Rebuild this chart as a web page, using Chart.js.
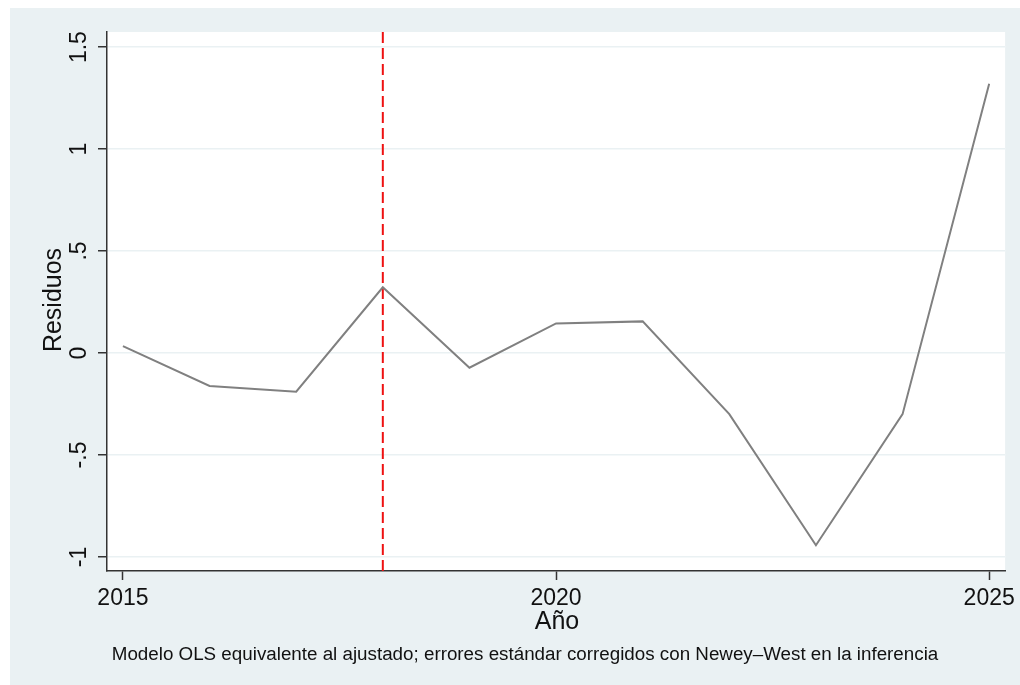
<!DOCTYPE html>
<html>
<head>
<meta charset="utf-8">
<script src="https://cdn.jsdelivr.net/npm/chart.js@4.4.1/dist/chart.umd.min.js"></script>
<style>
  html, body { margin: 0; padding: 0; background: #fff; }
  #wrap { position: absolute; left: 10px; top: 8px; width: 1010px; height: 677px; background: #eaf1f3; }
  canvas { display: block; }
</style>
</head>
<body>
<div id="wrap"><canvas id="resChart" width="1010" height="677"></canvas></div>
<script>
  // Data
  const years = [2015, 2016, 2017, 2018, 2019, 2020, 2021, 2022, 2023, 2024, 2025];
  const residuos = [0.034, -0.162, -0.19, 0.322, -0.072, 0.145, 0.155, -0.3, -0.943, -0.3, 1.32];
  const xTicks = [2015, 2020, 2025];
  const yTicks = [-1, -0.5, 0, 0.5, 1, 1.5];
  const yTickLabels = ['-1', '-.5', '0', '.5', '1', '1.5'];
  const breakYear = 2018;

  const xMin = 2014.816, xMax = 2025.184;
  const yMin = -1.069, yMax = 1.574;
  const font = "'Liberation Sans', Arial, sans-serif";

  // white plot region
  const bgPlugin = {
    id: 'plotBg',
    beforeDraw(chart) {
      const a = chart.chartArea;
      chart.ctx.save();
      chart.ctx.fillStyle = '#fff';
      chart.ctx.fillRect(a.left, a.top, a.right - a.left, a.bottom - a.top);
      chart.ctx.restore();
    }
  };

  // Texts drawn by hand: rotated y labels, axis titles, caption
  const textPlugin = {
    id: 'stataText',
    afterDraw(chart) {
      const c = chart.ctx;
      const ys = chart.scales.y;
      c.save();
      c.fillStyle = '#111';
      c.font = '23px ' + font;
      c.textAlign = 'center';
      c.textBaseline = 'middle';
      yTicks.forEach((v, i) => {
        const py = ys.getPixelForValue(v);
        c.save();
        c.translate(70, py);
        c.rotate(-Math.PI / 2);
        c.fillText(yTickLabels[i], 0, 0);
        c.restore();
      });
      c.font = '25px ' + font;
      // y title
      c.save();
      c.translate(44, 292);
      c.rotate(-Math.PI / 2);
      c.fillText('Residuos', 0, 0);
      c.restore();
      // x title
      c.fillText('Año', 547, 614);
      // caption
      c.font = '18.8px ' + font;
      c.fillText('Modelo OLS equivalente al ajustado; errores estándar corregidos con Newey\u2013West en la inferencia', 515, 647);
      c.restore();
    }
  };

  new Chart(document.getElementById('resChart'), {
    type: 'line',
    data: {
      datasets: [{
        data: years.map((y, i) => ({ x: y, y: residuos[i] })),
        borderColor: '#808080',
        borderWidth: 2,
        pointRadius: 0,
        tension: 0
      }, {
        data: [{ x: breakYear, y: yMin }, { x: breakYear, y: yMax }],
        borderColor: '#ee1111',
        borderWidth: 2,
        borderDash: [11, 5],
        pointRadius: 0
      }]
    },
    options: {
      responsive: false,
      animation: false,
      layout: { padding: { left: 0, top: 24, right: 13, bottom: 0 } },
      plugins: { legend: { display: false }, tooltip: { enabled: false } },
      scales: {
        x: {
          type: 'linear',
          min: xMin,
          max: xMax,
          afterBuildTicks: s => { s.ticks = xTicks.map(v => ({ value: v })); },
          afterFit: s => { s.height = 114; },
          grid: { drawOnChartArea: false, tickLength: 9, tickColor: '#333', tickWidth: 1.5 },
          border: { color: '#333', width: 1.5 },
          ticks: { color: '#111', font: { family: font, size: 23 }, padding: 5, maxRotation: 0, callback: v => String(v) }
        },
        y: {
          min: yMin,
          max: yMax,
          afterBuildTicks: s => { s.ticks = yTicks.map(v => ({ value: v })); },
          afterFit: s => { s.width = 97; },
          grid: { color: '#eaf1f3', lineWidth: 1.5, tickLength: 9, tickColor: '#333', tickWidth: 1.5 },
          border: { color: '#333', width: 1.5 },
          ticks: { display: false }
        }
      }
    },
    plugins: [bgPlugin, textPlugin]
  });
</script>
</body>
</html>
